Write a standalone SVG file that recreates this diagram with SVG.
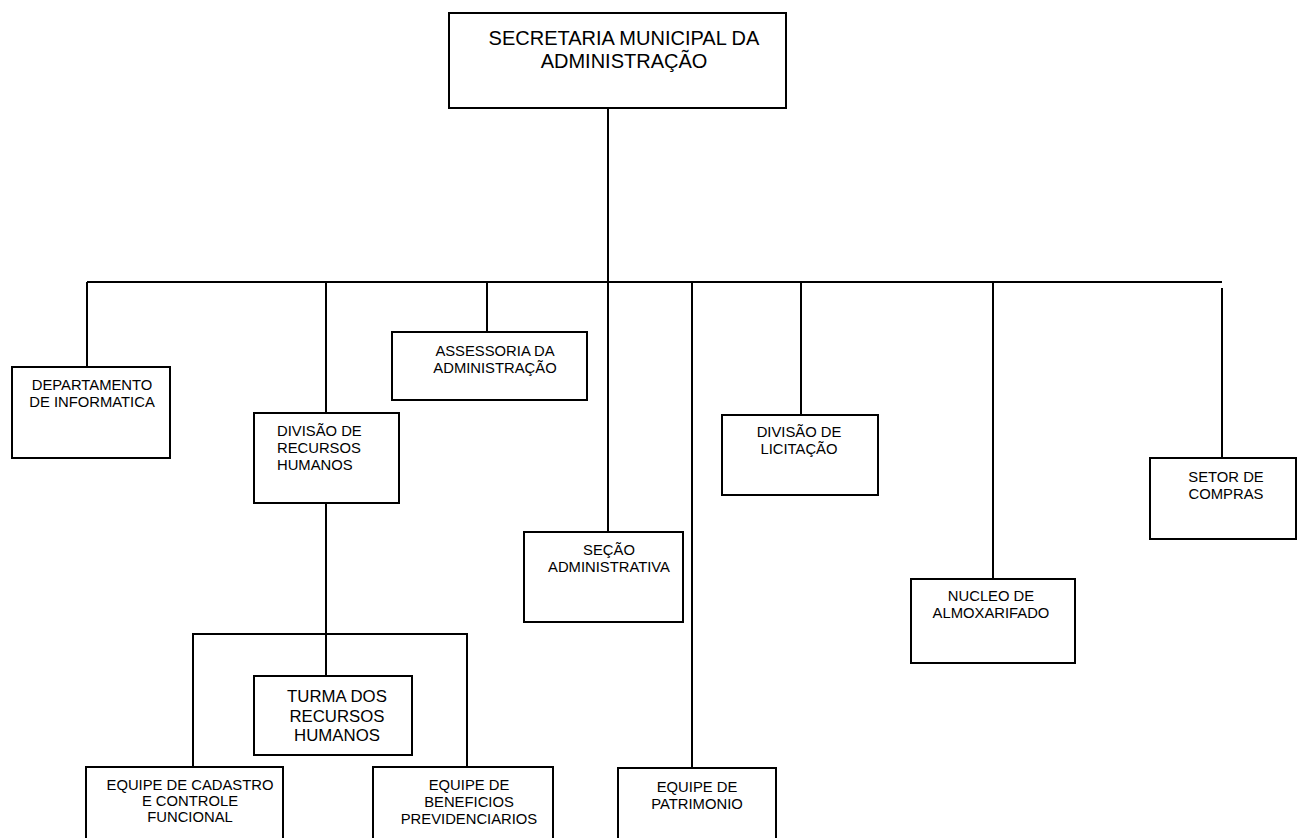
<svg xmlns="http://www.w3.org/2000/svg" width="1297" height="838" viewBox="0 0 1297 838">
  <style>
    .box { fill: #fff; stroke: #000; stroke-width: 2; }
    .wire { fill: none; stroke: #000; stroke-width: 2; }
    text { font-family: "Liberation Sans", Arial, sans-serif; font-size: 14.8px; fill: #000; text-anchor: middle; }
    .title { font-size: 20px; }
    .mid { font-size: 16.8px; }
    .left { text-anchor: start; }
  </style>
  <rect width="1297" height="838" fill="#fff"/>

  <!-- connectors -->
  <g id="connectors">
    <path class="wire" d="M608 108 V532"/>
    <path class="wire" d="M87 282 H1222"/>
    <path class="wire" d="M87 282 V367"/>
    <path class="wire" d="M326 282 V413"/>
    <path class="wire" d="M487 282 V332"/>
    <path class="wire" d="M692 282 V768"/>
    <path class="wire" d="M801 282 V415"/>
    <path class="wire" d="M993 282 V579"/>
    <path class="wire" d="M1222 288 V458"/>
    <path class="wire" d="M326 503 V676"/>
    <path class="wire" d="M193 767 V634 H467 V767"/>
  </g>

  <g id="secretaria">
    <rect class="box" x="449" y="13" width="337" height="95"/>
    <text class="title" x="624" y="45">SECRETARIA MUNICIPAL DA</text>
    <text class="title" x="624" y="68">ADMINISTRAÇÃO</text>
  </g>

  <g id="departamento-informatica">
    <rect class="box" x="12" y="367" width="158" height="91"/>
    <text x="92" y="390">DEPARTAMENTO</text>
    <text x="92" y="407">DE INFORMATICA</text>
  </g>

  <g id="divisao-rh">
    <rect class="box" x="254" y="413" width="145" height="90"/>
    <text class="left" x="277" y="436">DIVISÃO DE</text>
    <text class="left" x="277" y="453">RECURSOS</text>
    <text class="left" x="277" y="470">HUMANOS</text>
  </g>

  <g id="assessoria">
    <rect class="box" x="392" y="332" width="195" height="68"/>
    <text x="495" y="356">ASSESSORIA DA</text>
    <text x="495" y="373">ADMINISTRAÇÃO</text>
  </g>

  <g id="secao-administrativa">
    <rect class="box" x="524" y="532" width="159" height="90"/>
    <text x="609" y="555">SEÇÃO</text>
    <text x="609" y="572">ADMINISTRATIVA</text>
  </g>

  <g id="divisao-licitacao">
    <rect class="box" x="722" y="415" width="156" height="80"/>
    <text x="799" y="437">DIVISÃO DE</text>
    <text x="799" y="454">LICITAÇÃO</text>
  </g>

  <g id="nucleo-almoxarifado">
    <rect class="box" x="911" y="579" width="164" height="84"/>
    <text x="991" y="601">NUCLEO DE</text>
    <text x="991" y="618">ALMOXARIFADO</text>
  </g>

  <g id="setor-compras">
    <rect class="box" x="1150" y="458" width="146" height="81"/>
    <text x="1226" y="482">SETOR DE</text>
    <text x="1226" y="499">COMPRAS</text>
  </g>

  <g id="turma-rh">
    <rect class="box" x="254" y="676" width="158" height="79"/>
    <text class="mid" x="337" y="702">TURMA DOS</text>
    <text class="mid" x="337" y="721.5">RECURSOS</text>
    <text class="mid" x="337" y="741">HUMANOS</text>
  </g>

  <g id="equipe-cadastro">
    <rect class="box" x="86" y="767" width="197" height="80"/>
    <text x="190" y="790">EQUIPE DE CADASTRO</text>
    <text x="190" y="806">E CONTROLE</text>
    <text x="190" y="822">FUNCIONAL</text>
  </g>

  <g id="equipe-beneficios">
    <rect class="box" x="373" y="767" width="180" height="80"/>
    <text x="469" y="790">EQUIPE DE</text>
    <text x="469" y="807">BENEFICIOS</text>
    <text x="469" y="824">PREVIDENCIARIOS</text>
  </g>

  <g id="equipe-patrimonio">
    <rect class="box" x="618" y="768" width="158" height="80"/>
    <text x="697" y="792">EQUIPE DE</text>
    <text x="697" y="809">PATRIMONIO</text>
  </g>
</svg>
